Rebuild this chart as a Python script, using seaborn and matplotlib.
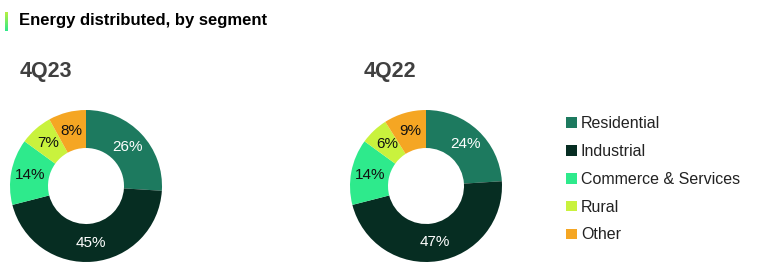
import matplotlib
matplotlib.use("Agg")
import matplotlib.pyplot as plt
import seaborn as sns
import numpy as np
from matplotlib.colors import LinearSegmentedColormap

categories = ["Residential", "Industrial", "Commerce & Services", "Rural", "Other"]
values_4q23 = [26, 45, 14, 7, 8]
values_4q22 = [24, 47, 14, 6, 9]
period_labels = ["4Q23", "4Q22"]
title = "Energy distributed, by segment"

sns.set_theme(style="white")
plt.rcParams['font.family'] = ['Liberation Sans', 'DejaVu Sans']

colors = sns.color_palette(["#1D7A5F", "#062D22", "#2EEA8C", "#C9F23D", "#F5A623"])
label_colors = ["white", "white", "#111111", "#111111", "#111111"]

W, H = 763, 278
fig = plt.figure(figsize=(W / 100, H / 100), dpi=100)

def px_axes(x0, y0, w, h):
    return fig.add_axes([x0 / W, 1 - (y0 + h) / H, w / W, h / H])

def donut(ax, vals):
    wedges, texts, autotexts = ax.pie(
        vals, colors=colors, startangle=90, counterclock=False,
        wedgeprops=dict(width=0.5, edgecolor="none"),
        autopct=lambda p: f"{p:.0f}%", pctdistance=0.75,
        textprops=dict(fontsize=11))
    for t, c in zip(autotexts, label_colors):
        t.set_color(c)
    ax.set_xlim(-1, 1)
    ax.set_ylim(-1, 1)
    ax.set_aspect("equal")
    ax.axis("off")
    return wedges

ax1 = px_axes(10, 110, 152, 152)
wedges = donut(ax1, values_4q23)
ax2 = px_axes(350, 110, 152, 152)
donut(ax2, values_4q22)

fig.text(20 / W, 1 - 71 / H, period_labels[0], fontsize=15.5, fontweight="bold",
         color="#404040", va="center", ha="left")
fig.text(364 / W, 1 - 71 / H, period_labels[1], fontsize=15.5, fontweight="bold",
         color="#404040", va="center", ha="left")

fig.text(19 / W, 1 - 21 / H, title, fontsize=12, fontweight="bold",
         color="black", va="center", ha="left")
# accent bar
bar_ax = px_axes(5, 12, 3, 19)
grad = np.linspace(0, 1, 50).reshape(-1, 1)
cmap = LinearSegmentedColormap.from_list("g", ["#B8F040", "#2EE88A"])
bar_ax.imshow(grad, aspect="auto", cmap=cmap)
bar_ax.axis("off")

leg = fig.legend(wedges, categories, loc="upper left",
                 bbox_to_anchor=(552 / W, 1 - 102 / H), frameon=False,
                 fontsize=11.5, handlelength=0.65, handleheight=0.65,
                 handletextpad=0.25, labelspacing=0.8, labelcolor="#222222")

fig.savefig("out.png", dpi=100)
